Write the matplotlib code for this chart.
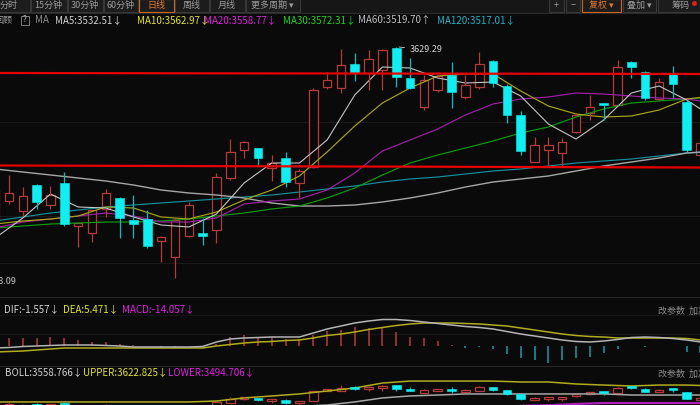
import matplotlib
matplotlib.use("Agg")
import matplotlib.pyplot as plt
from matplotlib.patches import Rectangle
import numpy as np

plt.rcParams['font.family'] = ['Noto Sans CJK SC', 'DejaVu Sans']

W, H = 700, 405
BG = '#0a0a0a'
RED = '#b53b3b'
CYAN = '#10eef2'
CYAN_WICK = '#12b9c0'
TEAL_BAR = '#1a9aa6'

# daily candles, index -1 (cut at left edge) .. 50 (cut at right edge)
idx = np.arange(-1, 51)
opens = [3453, 3475, 3465, 3491, 3471, 3493, 3450, 3443, 3467, 3478, 3456, 3457, 3435,
         3419, 3440, 3443, 3446, 3498, 3526, 3528, 3508, 3518, 3493, 3509, 3589, 3588,
         3612, 3603, 3606, 3628, 3598, 3569, 3586, 3601, 3579, 3589, 3615, 3590, 3561,
         3514, 3526, 3523, 3544, 3563, 3573, 3571, 3614, 3604, 3577, 3603, 3574, 3521]
highs = [3491, 3501, 3489, 3492, 3490, 3504, 3453, 3466, 3487, 3479, 3481, 3466, 3440,
         3459, 3474, 3458, 3503, 3537, 3535, 3528, 3521, 3524, 3507, 3588, 3604, 3627,
         3623, 3626, 3627, 3629.29, 3618, 3601, 3602, 3614, 3601, 3624, 3616, 3592, 3565,
         3539, 3539, 3538, 3563, 3581, 3573, 3616, 3615, 3605, 3598, 3610, 3576, 3536]
lows = [3451, 3472, 3460, 3467, 3467, 3450, 3429, 3434, 3459, 3438, 3438, 3428, 3414,
        3398.09, 3439, 3431, 3433, 3496, 3518, 3511, 3495, 3489, 3478, 3508, 3587, 3583,
        3595, 3586, 3586, 3589, 3587, 3566, 3584, 3568, 3577, 3587, 3589, 3553, 3521,
        3514, 3511, 3510, 3543, 3556, 3556, 3570, 3598, 3576, 3576, 3578, 3524, 3520]
closes = [3486, 3483, 3480, 3474, 3481, 3452, 3453, 3466, 3483, 3458, 3452, 3430, 3439,
          3456, 3471, 3440, 3499, 3524, 3534, 3518, 3513, 3494, 3505, 3586, 3596, 3611,
          3603, 3617, 3626, 3599, 3588, 3596, 3600, 3584, 3591, 3612, 3593, 3561, 3525,
          3531, 3531, 3534, 3561, 3569, 3571, 3609, 3609, 3578, 3594, 3592, 3526, 3533]

# moving averages read every second candle
ma_idx = np.arange(-1, 52, 2)
ma5 = [3438, 3458, 3482, 3469, 3468, 3459, 3451, 3449, 3462, 3493, 3513, 3513, 3536, 3581,
       3609, 3608, 3598, 3593, 3594, 3580, 3552, 3537, 3556, 3583, 3590, 3576, 3558]
ma10 = [3452, 3455, 3457, 3460, 3469, 3468, 3459, 3457, 3464, 3476, 3486, 3500, 3524, 3550,
        3573, 3588, 3600, 3602, 3602, 3585, 3570, 3562, 3559, 3560, 3566, 3577, 3580]
ma20 = [3448, 3454, 3457, 3460, 3463, 3460, 3454, 3454, 3458, 3472, 3475, 3477, 3486, 3503,
        3525, 3536, 3547, 3561, 3572, 3577, 3579, 3583, 3582, 3580, 3578, 3577, 3573]
ma30 = [3448, 3450, 3452, 3453, 3454, 3454, 3455, 3457, 3460, 3463, 3467, 3470, 3478, 3488,
        3501, 3513, 3521, 3528, 3535, 3543, 3549, 3559, 3567, 3573, 3575, 3577, 3579]
ma60 = [3507, 3504, 3501, 3498, 3495, 3491, 3486, 3483, 3481, 3478, 3473, 3470, 3470, 3471,
        3474, 3478, 3483, 3489, 3494, 3497, 3500, 3505, 3510, 3514, 3518, 3523, 3525]
ma120 = [3455, 3459, 3463, 3466, 3469, 3471, 3473, 3475, 3477, 3479, 3481, 3484, 3487, 3490,
         3494, 3497, 3499, 3502, 3505, 3507, 3510, 3513, 3515, 3517, 3520, 3523, 3524]

# hand drawn support / resistance lines (left end, right end)
upper_line = [3603, 3602]
lower_line = [3510.5, 3508.5]

# MACD, one value per candle
dif = [-5, -4, -2, -1, 0, 1, 1, 1, 0, -1, -3, -3, -3, -3, -3, -2, 7, 13, 15, 16, 17, 17, 17,
       25, 33, 39, 45, 49, 52, 52, 50, 47, 44, 41, 38, 36, 33, 28, 23, 19, 15, 11, 8, 7, 9,
       12, 16, 17, 16, 14, 11, 7]
dea = [-13, -12, -11, -9, -7, -5, -5, -5, -5, -5, -5, -5, -5, -5, -5, -5, -1, 2, 5, 7, 8, 10,
       11, 15, 20, 23, 27, 32, 36, 40, 43, 45, 45, 45, 44, 43, 41, 39, 35, 31, 27, 23, 20, 18,
       17, 15, 15, 15, 15, 15, 14, 11]
macd = [15, 15, 15, 15, 17, 15, 11, 7, 7, 3, 1, -1, -3, -3, -1, -1, 3, 17, 21, 17, 17, 13, 13,
        21, 29, 31, 37, 35, 35, 27, 17, 15, 9, 1, -5, -3, -7, -17, -25, -29, -35, -29, -25,
        -23, -15, -7, -1, -3, -1, -1, -13, -15]

# BOLL bands, same sampling as the MAs
boll_up = [3503, 3503, 3503, 3503, 3503, 3503, 3503, 3503, 3510, 3533, 3548, 3563, 3585, 3608,
           3645, 3660, 3660, 3660, 3660, 3653, 3653, 3638, 3630, 3623, 3630, 3630, 3623]
boll_mid = [3440, 3444, 3447, 3450, 3452, 3450, 3446, 3446, 3450, 3460, 3465, 3470, 3480, 3503,
            3533, 3548, 3555, 3563, 3563, 3563, 3563, 3563, 3563, 3555, 3555, 3555, 3555]
boll_low = [3377, 3385, 3391, 3397, 3401, 3397, 3389, 3389, 3390, 3387, 3382, 3377, 3375, 3398,
            3421, 3436, 3450, 3466, 3466, 3473, 3478, 3488, 3495, 3495, 3495, 3495, 3495]

ma_labels = [('MA5:3532.51↓', '#d2d2d2'), ('MA10:3562.97↓', '#e6e61e'),
             ('MA20:3558.77↓', '#e020e0'), ('MA30:3572.31↓', '#1ed21e'),
             ('MA60:3519.70↑', '#bdbdbd'), ('MA120:3517.01↓', '#1eb4c8')]
ma_label_x = [55, 137, 204, 283, 358, 437]
macd_labels = [('DIF:-1.557↓', '#d2d2d2'), ('DEA:5.471↓', '#e6e61e'), ('MACD:-14.057↓', '#e020e0')]
macd_label_x = [4, 63, 122]
boll_labels = [('BOLL:3558.766↓', '#d2d2d2'), ('UPPER:3622.825↓', '#e6e61e'),
               ('LOWER:3494.706↓', '#e020e0')]
boll_label_x = [5, 83, 168]
tabs = ['分时', '15分钟', '30分钟', '60分钟', '日线', '周线', '月线', '更多周期 ▾']
tab_edges = [-20, 30, 67, 103, 138, 174, 209, 245, 300]


def px_rect(x0, y0, x1, y1):
    return [x0 / W, 1 - y1 / H, (x1 - x0) / W, (y1 - y0) / H]


STEP = 13.83
X_LIM = (-9 / STEP, 691 / STEP)
BW = 0.62


def draw_candles(ax, lw, min_h):
    for i, o, h, l, c in zip(idx, opens, highs, lows, closes):
        bot, top = min(o, c), max(o, c)
        if top - bot < min_h:
            top = bot + min_h
        if c > o:
            ax.vlines(i, top, h, color=RED, lw=lw)
            ax.vlines(i, l, bot, color=RED, lw=lw)
            ax.add_patch(Rectangle((i - BW / 2, bot), BW, top - bot, facecolor=BG,
                                   edgecolor=RED, lw=lw))
        else:
            ax.vlines(i, l, h, color=CYAN_WICK, lw=lw)
            ax.add_patch(Rectangle((i - BW / 2, bot), BW, top - bot, facecolor=CYAN,
                                   edgecolor=CYAN, lw=0.4, zorder=3))


def style(ax):
    ax.set_facecolor(BG)
    ax.set_xlim(*X_LIM)
    ax.set_xticks([])
    ax.set_yticks([])
    for s in ax.spines.values():
        s.set_visible(False)


fig = plt.figure(figsize=(7, 4.05), dpi=100, facecolor=BG)

# main price panel
ax = fig.add_axes(px_rect(0, 30, 700, 296))
style(ax)
ax.set_ylim(3380, 3646)
for g in [3554, 3460, 3413]:
    ax.axhline(g, color='#1a1a1a', lw=0.8, zorder=0)
ax.plot(ma_idx, ma120, color='#138f9c', lw=0.85)
ax.plot(ma_idx, ma60, color='#a6a6a6', lw=1.0)
ax.plot(ma_idx, ma30, color='#0f9a0f', lw=0.85)
ax.plot(ma_idx, ma20, color='#a020a8', lw=0.85)
ax.plot(ma_idx, ma10, color='#a8a416', lw=0.85)
ax.plot(ma_idx, ma5, color='#c4c4c4', lw=0.8)
draw_candles(ax, 0.9, 0.8)
ax.plot(X_LIM, upper_line, color='#e60000', lw=1.6, zorder=5)
ax.plot(X_LIM, lower_line, color='#e60000', lw=1.6, zorder=5)
ax.annotate('3629.29', xy=(28, 3629.29), xytext=(29.0, 3626), color='#d0d0d0', fontsize=6.5,
            va='center', ha='left',
            arrowprops=dict(arrowstyle='-', color='#c8c8c8', lw=0.6))
ax.text(0.58, 3394, '3398.09', color='#c8c8c8', fontsize=6.5, ha='right', va='center')

# MACD panel
mx = fig.add_axes(px_rect(0, 298, 700, 365))
style(mx)
mx.set_ylim(-39, 95)
for g in [61, 23]:
    mx.axhline(g, color='#161616', lw=0.8, zorder=0)
bar_col = [RED if v > 0 else TEAL_BAR for v in macd]
mx.vlines(idx, 0, macd, colors=bar_col, lw=1.1)
mx.plot(idx, dea, color='#b0ac1e', lw=1.1)
mx.plot(idx, dif, color='#b4b4b4', lw=1.1)

# BOLL panel
bx = fig.add_axes(px_rect(0, 378, 700, 405))
style(bx)
bx.set_ylim(3480, 3683)
bx.plot(ma_idx, boll_up, color='#b0ac1e', lw=1.1)
bx.plot(ma_idx, boll_mid, color='#a6a6a6', lw=1.1)
bx.plot(ma_idx, boll_low, color='#b020b8', lw=1.6)
draw_candles(bx, 0.9, 15)

# window chrome drawn in pixel coordinates
ui = fig.add_axes([0, 0, 1, 1])
ui.set_xlim(0, W)
ui.set_ylim(H, 0)
ui.axis('off')
ui.patch.set_alpha(0)
ui.set_zorder(10)

ui.add_patch(Rectangle((0, 0), W, 12.5, facecolor='#161616', edgecolor='none'))
for name, x0, x1 in zip(tabs, tab_edges[:-1], tab_edges[1:]):
    sel = name == '日线'
    ui.add_patch(Rectangle((x0 + 0.5, -1), x1 - x0 - 1, 13,
                           facecolor='#1c1c1c', edgecolor='#d2691e' if sel else '#383838', lw=0.8))
    ui.text((x0 + x1) / 2 + (4 if x0 < 0 else 0), 5.5, name, color='#e0782a' if sel else '#9a9a9a',
            fontsize=6.5, ha='center', va='center')
for name, x0, x1, ec in [('+', 549, 564, '#383838'), ('−', 566, 580, '#383838'),
                         ('复权 ▾', 582, 621, '#d2691e'), ('叠加 ▾', 623, 656, '#383838'),
                         ('筹码', 658, 704, '#383838')]:
    ui.add_patch(Rectangle((x0, -1), x1 - x0, 13, facecolor='#1c1c1c', edgecolor=ec, lw=0.8))
    ui.text((x0 + x1) / 2, 5.5, name, color='#e0782a' if ec != '#383838' else '#9a9a9a',
            fontsize=6.5, ha='center', va='center')
ui.plot([694], [2.5], marker='o', ms=2.5, color='#e02020')
ui.plot([0, W], [12.5, 12.5], color='#2a2a2a', lw=0.8)

ui.text(12, 20, '回顾', color='#9a9a9a', fontsize=6.5, ha='right', va='center')
ui.add_patch(Rectangle((21, 15.5), 8, 9, facecolor='none', edgecolor='#7a7a7a', lw=0.7))
ui.text(25, 20, '?', color='#bdbdbd', fontsize=6, ha='center', va='center')
ui.text(35, 20, 'MA', color='#8a8a8a', fontsize=7, va='center')
for (s, c), x in zip(ma_labels, ma_label_x):
    ui.text(x, 20, s, color=c, fontsize=7, va='center')

ui.plot([0, W], [297, 297], color='#262626', lw=0.8)
ui.plot([0, W], [365.5, 365.5], color='#262626', lw=0.8)
for (s, c), x in zip(macd_labels, macd_label_x):
    ui.text(x, 309, s, color=c, fontsize=7, va='center')
for (s, c), x in zip(boll_labels, boll_label_x):
    ui.text(x, 372, s, color=c, fontsize=7, va='center')
ui.text(658, 311, '改参数  加减指标', color='#8a8a8a', fontsize=6.5, va='center')
ui.text(658, 374, '改参数  加减指标', color='#8a8a8a', fontsize=6.5, va='center')

fig.savefig('out.png', dpi=100, facecolor=BG)
